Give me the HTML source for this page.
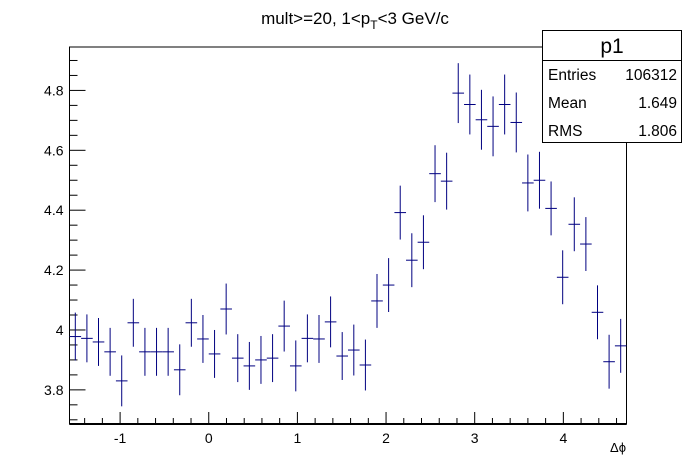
<!DOCTYPE html>
<html><head><meta charset="utf-8"><style>
body{margin:0;background:#fff;}
svg{display:block;font-family:"Liberation Sans",Arial,sans-serif;}
</style></head><body>
<svg id="chart" width="696" height="472" viewBox="0 0 696 472" xmlns="http://www.w3.org/2000/svg">
<rect x="0" y="0" width="696" height="472" fill="#fff"/>
<text x="355" y="24" font-size="17" text-anchor="middle">mult&gt;=20, 1&lt;p<tspan font-size="12" dy="5">T</tspan><tspan dy="-5">&lt;3 GeV/c</tspan></text>
<g id="axes"></g>
<g id="marks"></g>
<g>
<rect x="542.5" y="30.5" width="139" height="112" fill="#fff" stroke="#000" stroke-width="1"/>
<line x1="542.5" y1="60.5" x2="681.5" y2="60.5" stroke="#000"/>
<text x="612" y="53" font-size="21" text-anchor="middle">p1</text>
<text x="548" y="80" font-size="15.5">Entries</text>
<text x="677" y="80" font-size="15.5" text-anchor="end">106312</text>
<text x="548" y="108" font-size="15.5">Mean</text>
<text x="677" y="108" font-size="15.5" text-anchor="end">1.649</text>
<text x="548" y="136" font-size="15.5">RMS</text>
<text x="677" y="136" font-size="15.5" text-anchor="end">1.806</text>
</g>
</svg>
<script>
const values = [3.978,3.972,3.96,3.927,3.83,4.024,3.927,3.927,3.927,3.867,4.024,3.97,3.92,4.07,3.906,3.88,3.9,3.906,4.013,3.88,3.972,3.97,4.027,3.913,3.933,3.883,4.097,4.15,4.392,4.233,4.293,4.522,4.497,4.791,4.753,4.702,4.68,4.753,4.693,4.491,4.5,4.406,4.176,4.353,4.287,4.059,3.894,3.947];
const errors = [0.08,0.08,0.08,0.08,0.085,0.08,0.08,0.08,0.08,0.085,0.08,0.08,0.08,0.085,0.08,0.08,0.08,0.08,0.085,0.085,0.08,0.08,0.085,0.08,0.085,0.085,0.09,0.09,0.09,0.09,0.09,0.095,0.095,0.1,0.1,0.1,0.1,0.1,0.1,0.095,0.095,0.09,0.09,0.09,0.09,0.09,0.09,0.09];
const xTickLabels = [-1,0,1,2,3,4];
const yTickLabels = [3.8,4,4.2,4.4,4.6,4.8];
const xMin = -Math.PI/2, xMax = 3*Math.PI/2;
const L=69.5, R=626.5, T=47, B=424;
const yMin=3.686, yMax=4.945;
const NS="http://www.w3.org/2000/svg";
function sx(v){return L+(v-xMin)/(xMax-xMin)*(R-L);}
function sy(v){return B-(v-yMin)/(yMax-yMin)*(B-T);}
function mk(tag,attrs,parent){const e=document.createElementNS(NS,tag);for(const k in attrs)e.setAttribute(k,attrs[k]);parent.appendChild(e);return e;}
const axes=document.getElementById('axes'), marks=document.getElementById('marks');
const frame=mk('rect',{x:L,y:T,width:R-L,height:B-T,fill:'none',stroke:'#000','stroke-width':1},axes);


const xaxis=mk('line',{x1:L,y1:B,x2:R,y2:B,stroke:'#000','stroke-width':2},axes);


for(let v=-1.4;v<=4.7;v+=0.2){const r=Math.round(v*10)/10;const major=Math.abs(r-Math.round(r))<1e-6;
 const t=mk('line',{x1:sx(r),y1:B,x2:sx(r),y2:B-(major?12:6),stroke:'#000'},axes);
 
 }
xTickLabels.forEach(v=>{const t=mk('text',{x:sx(v),y:B+19,'font-size':14,'text-anchor':'middle'},axes);t.textContent=String(v);
 
 });
for(let v=3.7;v<=4.95;v+=0.05){const r=Math.round(v*100)/100;if(r<yMin||r>yMax)continue;const major=Math.abs(r*5-Math.round(r*5))<1e-6;
 const t=mk('line',{x1:L,y1:sy(r),x2:L+(major?16:8),y2:sy(r),stroke:'#000'},axes);
 
 }
yTickLabels.forEach(v=>{const t=mk('text',{x:L-6,y:sy(v)+5,'font-size':14,'text-anchor':'end'},axes);t.textContent=String(v);
 
 });
const xt=mk('text',{x:626,y:452,'font-size':13,'text-anchor':'end'},axes);xt.textContent='Δϕ';


const n=values.length, w=(xMax-xMin)/n;
values.forEach((v,i)=>{const c=xMin+w*(i+0.5);const g=mk('g',{stroke:'#000080','stroke-width':1},marks);
 
 
 mk('line',{x1:sx(c-w/2),y1:sy(v),x2:sx(c+w/2),y2:sy(v)},g);
 mk('line',{x1:sx(c),y1:sy(v-errors[i]),x2:sx(c),y2:sy(v+errors[i])},g);});
</script>
</body></html>
